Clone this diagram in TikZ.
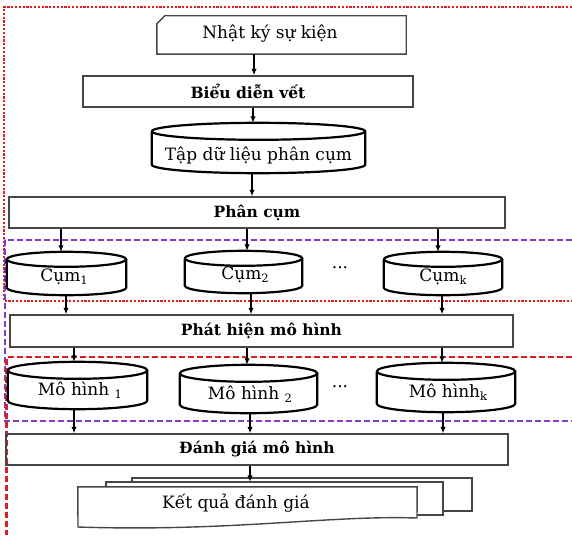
\documentclass[tikz,border=0pt]{standalone}
\usepackage{fontspec}
\setmainfont{DejaVu Serif}
\usetikzlibrary{arrows.meta,calc}
\definecolor{fred}{RGB}{222,30,38}
\definecolor{fpurple}{RGB}{128,60,200}
\definecolor{boxline}{RGB}{70,70,70}
\newcommand\subx[1]{\raisebox{-0.3ex}{\fontsize{11.5}{12}\selectfont #1}}
\newcommand\cylbody[2]{%
  \draw[shapeline] let \p1=(#1.north west), \p2=(#1.south east), \n1={(\x2-\x1)/2} in
    (\x1,\y1-#2) arc[start angle=180, end angle=-180, x radius=\n1, y radius=#2]
    (\x1,\y1-#2) -- (\x1,\y2+#2) arc[start angle=180, end angle=360, x radius=\n1, y radius=#2] -- (\x2,\y1-#2);
}
\tikzset{
  box/.style={draw=boxline, line width=1.4pt, inner sep=0pt},
  plain/.style={inner sep=0pt},
  shapeline/.style={draw=black, line width=2.2pt},
  arr/.style={-{Latex[length=6.5pt,width=5.5pt]}, line width=1.8pt},
  lbl/.style={font=\fontsize{17}{19}\selectfont},
  blbl/.style={font=\bfseries\fontsize{15.5}{18}\selectfont},
  reddot/.style={draw=fred, line width=2.3pt, dash pattern=on 2.2pt off 1.6pt},
  purpdash/.style={draw=fpurple, line width=2pt, dash pattern=on 6pt off 3pt},
  reddash/.style={draw=fred, line width=2.2pt, dash pattern=on 6pt off 3pt},
}
\begin{document}
\begin{tikzpicture}[x=1pt,y=1pt]
\useasboundingbox (0,0) rectangle (572,-535);

% frames
\draw[reddot] (572,-7) -- (4,-7) -- (4,-301) -- (572,-301);
\draw[purpdash] (572,-240) -- (5,-240) -- (5,-421) -- (572,-421);
\draw[reddash] (572,-357) -- (6.5,-357) -- (6.5,-535);

% Nhat ky su kien (card)
\node[plain, minimum width=249pt, minimum height=38pt] (log) at (281.5,-35) {};
\draw[box] ([yshift=-8pt]log.north west) -- ([xshift=8pt]log.north west) -- (log.north east) -- (log.south east) -- (log.south west) -- cycle;
\node[lbl] (logt) at (270,-34) {Nhật ký sự kiện};

% Bieu dien vet
\node[box, blbl, minimum width=330pt, minimum height=31pt] (bd) at (248,-91.5) {Biểu diễn vết};

% Tap du lieu phan cum
\node[plain, minimum width=213pt, minimum height=50pt] (tap) at (258.5,-148) {};
\cylbody{tap}{8.5pt}
\node[lbl] (tapt) at (258.5,-155) {Tập dữ liệu phân cụm};

% Phan cum
\node[box, blbl, minimum width=496pt, minimum height=31pt] (pc) at (257,-212.5) {Phân cụm};

% clusters
\node[plain, minimum width=119pt, minimum height=43pt] (c1) at (66.5,-273.5) {};
\cylbody{c1}{7.5pt}
\node[lbl] (c1t) at (64,-277) {Cụm\subx{1}};
\node[plain, minimum width=117pt, minimum height=42pt] (c2) at (243.5,-272) {};
\cylbody{c2}{7.5pt}
\node[lbl] (c2t) at (245,-275) {Cụm\subx{2}};
\node[plain, minimum width=118pt, minimum height=43pt] (ck) at (443,-273.5) {};
\cylbody{ck}{7.5pt}
\node[lbl] (ckt) at (443,-277) {Cụm\subx{k}};
\node[lbl] (dots1) at (340,-268) {...};

% Phat hien mo hinh
\node[box, blbl, minimum width=503pt, minimum height=32pt] (ph) at (261.5,-331) {Phát hiện mô hình};

% models
\node[plain, minimum width=139pt, minimum height=47pt] (m1) at (77.5,-385.5) {};
\cylbody{m1}{8.5pt}
\node[lbl] (m1t) at (80,-390) {Mô hình \subx{1}};
\node[plain, minimum width=137pt, minimum height=48pt] (m2) at (248.5,-389) {};
\cylbody{m2}{8.5pt}
\node[lbl] (m2t) at (250,-394) {Mô hình \subx{2}};
\node[plain, minimum width=138pt, minimum height=49pt] (mk) at (446,-387.5) {};
\cylbody{mk}{8.5pt}
\node[lbl] (mkt) at (448,-392) {Mô hình\subx{k}};
\node[lbl] (dots2) at (340,-387) {...};

% Danh gia mo hinh
\node[box, blbl, minimum width=502pt, minimum height=31pt] (dg) at (257,-449.5) {Đánh giá mô hình};

% Ket qua danh gia (multi-document)
\node[plain, minimum width=340pt, minimum height=4pt] (kq3) at (302,-480) {};
\node[plain, minimum width=337pt, minimum height=4pt] (kq2) at (274.5,-484) {};
\draw[box, fill=white] (132,-483) -- (132,-478) -- (472,-478) -- (472,-511) -- (443,-511);
\draw[box, fill=white] (106,-487) -- (106,-482) -- (443,-482) -- (443,-515) -- (417,-515);
\node[plain, minimum width=339pt, minimum height=35pt] (kq) at (247.5,-504.5) {};
\draw[box] (kq.north west) -- (kq.north east) -- (417,-518)
  .. controls (330,-515) and (230,-532) .. (78,-527) -- cycle;
\node[lbl] (kqt) at (236,-503) {Kết quả đánh giá};

% connectors
\draw[arr] (log.south -| 254,0) -- (bd.north -| 254,0);
\draw[arr] (bd.south -| 253,0) -- (tap.north -| 253,0);
\draw[arr] (tap.south -| 252,0) -- (pc.north -| 252,0);
\draw[arr] (pc.south -| 61,0) -- (c1.north -| 61,0);
\draw[arr] (pc.south -| 247,0) -- (c2.north -| 247,0);
\draw[arr] (pc.south -| 438,0) -- (ck.north -| 438,0);
\draw[arr] (c1.south -| 66,0) -- (ph.north -| 66,0);
\draw[arr] (c2.south -| 251,0) -- (ph.north -| 251,0);
\draw[arr] (ck.south -| 442,0) -- (ph.north -| 442,0);
\draw[arr] (ph.south -| 74,0) -- (m1.north -| 74,0);
\draw[arr] (ph.south -| 247,0) -- (m2.north -| 247,0);
\draw[arr] (ph.south -| 442,0) -- (mk.north -| 442,0);
\draw[arr] (m1.south -| 74,0) -- (dg.north -| 74,0);
\draw[arr] (m2.south -| 250,0) -- (dg.north -| 250,0);
\draw[arr] (mk.south -| 443,0) -- (dg.north -| 443,0);
\draw[arr] (dg.south -| 250,0) -- (kq2.north -| 250,0);
\end{tikzpicture}
\end{document}
